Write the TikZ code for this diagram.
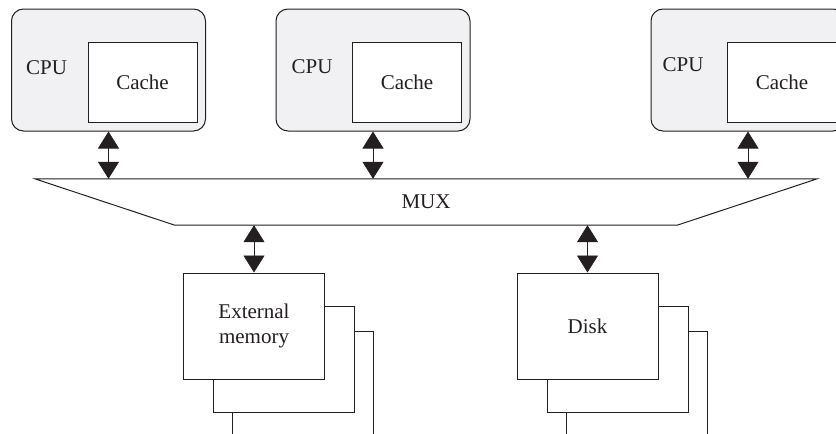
\documentclass[tikz,border=0pt]{standalone}
\usepackage{fontspec}
\setmainfont{Liberation Serif}
\usetikzlibrary{arrows.meta}
\definecolor{cpufill}{RGB}{241,241,243}
\definecolor{ink}{RGB}{35,31,32}
\tikzset{
  cpubox/.style={draw=ink, rounded corners=12pt, fill=cpufill, line width=1pt, minimum width=194pt, minimum height=122pt},
  cachebox/.style={draw=ink, fill=white, line width=1pt, minimum width=109pt, minimum height=80pt},
  storebox/.style={draw=ink, fill=white, line width=1pt, minimum width=141pt, minimum height=106pt, align=center},
  dblarrow/.style={draw=ink, line width=0.8pt, {Triangle[width=21pt,length=17pt]}-{Triangle[width=21pt,length=17pt]}}
}

\begin{document}
\begin{tikzpicture}[x=1pt, y=-1pt, font=\fontsize{21}{25}\selectfont, text=ink]
    \useasboundingbox (0,0) rectangle (836,434);
    \clip (0,0) rectangle (836,434);
    % processors with their caches
    \node[cpubox] (cpu1) at (108.5,70) {};
    \node[cpubox] (cpu2) at (373,70) {};
    \node[cpubox] (cpu3) at (748,70) {};
    \node[cachebox, anchor=north east] (cache1) at ([xshift=-8.5pt, yshift=-33pt]cpu1.north east) {Cache\hspace{10pt}};
    \node[cachebox, anchor=north east] (cache2) at ([xshift=-8.5pt, yshift=-33pt]cpu2.north east) {Cache\hspace{12pt}};
    \node[cachebox, anchor=north east] (cache3) at ([xshift=-8.5pt, yshift=-33pt]cpu3.north east) {Cache\hspace{14pt}};
    \node[anchor=west, inner sep=0pt] (lab1) at ([xshift=15pt, yshift=2pt]cpu1.west) {CPU};
    \node[anchor=west, inner sep=0pt] (lab2) at ([xshift=16pt, yshift=3pt]cpu2.west) {CPU};
    \node[anchor=west, inner sep=0pt] (lab3) at ([xshift=12pt, yshift=5pt]cpu3.west) {CPU};
    % multiplexer
    \node[minimum width=782pt, minimum height=46pt, inner sep=0pt] (mux) at (426,202) {MUX};
    \draw[draw=ink, line width=1pt] (mux.north west) -- (mux.north east)
        -- ([xshift=-140pt]mux.south east) -- ([xshift=140pt]mux.south west) -- cycle;
    % storage stacks
    \node[storebox] (mem3) at (303,384) {};
    \node[storebox] (mem2) at (284,359) {};
    \node[storebox] (mem) at (254,326) {External\\memory};
    \node[storebox] (disk3) at (636.5,384) {};
    \node[storebox] (disk2) at (617.5,359) {};
    \node[storebox] (disk) at (587.5,326) {Disk};
    % links
    \draw[dblarrow] (cpu1.south) -- (cpu1.south |- mux.north);
    \draw[dblarrow] (cpu2.south) -- (cpu2.south |- mux.north);
    \draw[dblarrow] (cpu3.south) -- (cpu3.south |- mux.north);
    \draw[dblarrow] (mem.north |- mux.south) -- (mem.north);
    \draw[dblarrow] (disk.north |- mux.south) -- (disk.north);
\end{tikzpicture}
\end{document}
